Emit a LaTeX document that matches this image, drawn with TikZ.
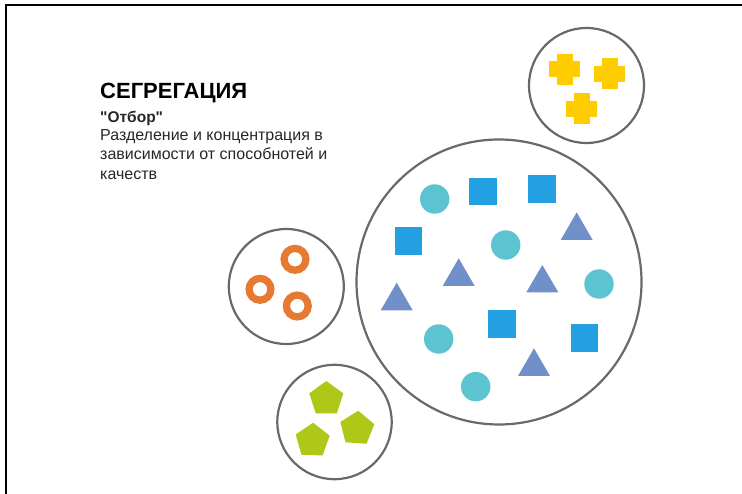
\documentclass[tikz,border=0pt]{standalone}
\usepackage{fontspec}
\setmainfont{Liberation Sans}
\usetikzlibrary{calc}
\definecolor{dotcol}{RGB}{92,195,208}
\definecolor{sqcol}{RGB}{34,160,226}
\definecolor{tricol}{RGB}{113,144,202}
\definecolor{ringcol}{RGB}{230,122,50}
\definecolor{crosscol}{RGB}{255,204,0}
\definecolor{pentcol}{RGB}{175,199,22}
\definecolor{rimcol}{RGB}{105,105,105}
\tikzset{
  rim/.style={draw=rimcol, line width=2.2},
  txt/.style={inner sep=0, anchor=base west, text=black!85}
}

\begin{document}
\begin{tikzpicture}[x=1pt,y=-1pt]
\useasboundingbox (0,0) rectangle (742,494);
\draw[black,line width=2.3] (6,494)--(6,5)--(742,5);
\coordinate (big) at (499,282);
\coordinate (cross) at (586.5,85.5);
\coordinate (ring) at (286.3,286.5);
\coordinate (pent) at (334.5,422);
\draw[rim] (big) circle (142.5);
\draw[rim] (cross) circle (57.5);
\draw[rim] (ring) circle (57.5);
\draw[rim] (pent) circle (57.2);
\node[txt, text=black, font=\fontsize{22}{24}\selectfont\bfseries] (title) at (100,99) {СЕГРЕГАЦИЯ};
\node[txt, font=\fontsize{15.5}{18}\selectfont\bfseries] (sub) at (100,122.5) {\textquotedbl Отбор\textquotedbl};
\node[txt, anchor=north west, align=left, font=\fontsize{16}{19.2}\selectfont] (desc) at (100,129.5)
  {Разделение и концентрация в\\зависимости от способнотей и\\качеств};
\foreach \x/\y in {434.7/199, 505.7/245, 599/284, 438.7/339, 475.7/386.7}
 \fill[dotcol] (\x,\y) circle (14.7);
\foreach \x/\y in {483.2/191.7, 542/189.2, 408.3/241, 501.7/324.2, 584.5/337.8}
 \fill[sqcol] (\x-13.8,\y-13.8) rectangle ++(27.6,27.6);
\foreach \x/\y/\b in {576.7/212.3/240, 458.7/258.3/286, 542.3/265/292.3, 396.7/282.7/310.3, 534/348.3/376}
 \fill[tricol] (\x,\y) -- (\x+16,\b) -- (\x-16,\b) -- cycle;
\foreach \x/\y in {295/259.3, 260/289.3, 297.3/306}
 \draw[ringcol, line width=7.3] (\x,\y) circle (10.9);
\foreach \x/\y in {564.7/69.5, 609.8/73.8, 581.5/108.7} {
 \fill[crosscol] (\x-15.4,\y-8) rectangle (\x+15.4,\y+8);
 \fill[crosscol] (\x-8,\y-15.4) rectangle (\x+8,\y+15.4);
}
\foreach \x/\y/\r in {326.3/398.9/0, 357/428.6/-4, 312.5/440.6/-2}
 \fill[pentcol, shift={(\x,\y)}, rotate=\r] (-90:17.9) -- (-18:17.9) -- (54:17.9) -- (126:17.9) -- (198:17.9) -- cycle;
\end{tikzpicture}
\end{document}
